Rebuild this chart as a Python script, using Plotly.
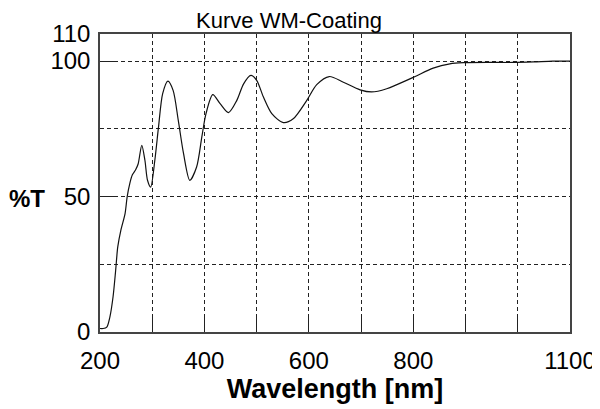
import plotly.graph_objects as go

wavelength_nm = [200, 206, 213, 219, 225, 230, 234, 240, 248, 252, 257, 262, 268, 273,
                 280, 286, 291, 297, 305, 312, 320, 330, 340, 350, 360, 372, 385, 395,
                 403, 416, 430, 446, 462, 475, 489, 500, 513, 529, 551, 570, 596, 615,
                 639, 666, 698, 720, 749, 800, 838, 870, 896, 950, 991, 1030, 1067, 1100]
transmission_pct = [1.3, 1.3, 1.8, 5.6, 13.0, 22.8, 31.4, 37.6, 43.7, 49.9, 54.8, 58.0, 59.8, 62.0,
                    68.9, 63.4, 56.0, 53.5, 63.4, 75.6, 88.0, 92.6, 89.2, 78.0, 65.8, 56.0, 60.9, 72.0,
                    80.6, 87.6, 84.3, 81.0, 85.5, 91.6, 94.7, 92.9, 86.7, 80.6, 77.3, 78.7, 85.5, 91.3,
                    94.3, 92.2, 89.4, 88.6, 89.8, 94.0, 97.4, 99.0, 99.4, 99.5, 99.5, 99.7, 100.0, 100.0]

x_tick_vals = [200, 400, 600, 800, 1100]
x_tick_text = ["200", "400", "600", "800", "1100"]
x_minor_vals = [300, 500, 700, 900, 1000]
y_tick_vals = [0, 50, 100, 110]
y_tick_text = ["0", "50", "100", "110"]
y_minor_vals = [25, 75]

FONT = "Liberation Sans, Arial, sans-serif"
GRID_DASH = "4px,3px"

# page has an 8px body margin; size the figure so the plot lands where the reference has it
W, H = 592, 401

fig = go.Figure()
fig.add_trace(go.Scatter(
    x=wavelength_nm, y=transmission_pct, mode="lines",
    line=dict(color="#111111", width=1.2, shape="spline", smoothing=0.8),
    showlegend=False, hoverinfo="skip"))

fig.update_layout(
    width=W, height=H,
    margin=dict(l=92, r=30, t=26, b=77, autoexpand=False),
    paper_bgcolor="white", plot_bgcolor="white",
    font=dict(family=FONT, color="black", size=22),
    title=dict(text="Kurve WM-Coating", x=281 / W, xanchor="center",
               y=1 - 12 / H, yanchor="middle", yref="container",
               font=dict(family=FONT, size=22, color="black")),
    annotations=[dict(text="<b>%T</b>", xref="paper", yref="paper",
                      x=(27 - 100) / 470, y=(332 - 198) / 298, xanchor="center", yanchor="middle",
                      showarrow=False, font=dict(family=FONT, size=24, color="black"))],
)

fig.update_xaxes(
    range=[200, 1100], tickmode="array", tickvals=x_tick_vals, ticktext=x_tick_text,
    automargin=False,
    showline=True, linecolor="#444444", linewidth=1.5, mirror=True,
    showgrid=True, gridcolor="#222222", gridwidth=1, griddash=GRID_DASH,
    ticks="inside", ticklen=14, tickcolor="#222222", tickwidth=1,
    ticklabelstandoff=6,
    tickfont=dict(family=FONT, size=24, color="black"),
    minor=dict(tickvals=x_minor_vals, showgrid=True, gridcolor="#222222", gridwidth=1,
               griddash=GRID_DASH, ticks="inside", ticklen=14, tickcolor="#222222", tickwidth=1),
    title=dict(text="<b>Wavelength [nm]</b>", font=dict(family=FONT, size=27, color="black"),
               standoff=6),
    zeroline=False,
)
fig.update_yaxes(
    range=[0, 110], tickmode="array", tickvals=y_tick_vals, ticktext=y_tick_text,
    automargin=False,
    showline=True, linecolor="#444444", linewidth=1.5, mirror=True,
    showgrid=True, gridcolor="#222222", gridwidth=1, griddash=GRID_DASH,
    ticks="inside", ticklen=16, tickcolor="#222222", tickwidth=1,
    ticklabelstandoff=3,
    tickfont=dict(family=FONT, size=24, color="black"),
    minor=dict(tickvals=y_minor_vals, showgrid=True, gridcolor="#222222", gridwidth=1,
               griddash=GRID_DASH, ticks=""),
    zeroline=False,
)

fig.write_html("out.html")
